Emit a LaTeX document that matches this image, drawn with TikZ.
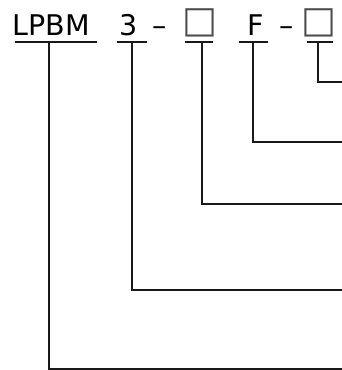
\documentclass[tikz,border=0pt]{standalone}
\usepackage{fontspec}
\setmainfont{DejaVu Sans}
\begin{document}
\begin{tikzpicture}[x=1pt,y=-1pt,
  lbl/.style={inner sep=0pt,outer sep=0pt,anchor=base,font=\fontsize{28.5}{30}\selectfont},
  sq/.style={inner sep=0pt,outer sep=0pt,anchor=center,font=\fontsize{37}{38}\selectfont,text=black!70},
  uline/.style={line width=1.9pt,black!90},
  conn/.style={line width=1.9pt,black!90}]
\useasboundingbox (0,0) rectangle (342,370);
% texts
\node[lbl] (t1) at (51.5,35) {LPBM};
\node[lbl] (t2) at (128.5,35) {3};
\node[lbl] (d1) at (160,35) {–};
\node[sq] (t3) at (199.5,22.5) {□};
\node[lbl] (t4) at (256,35) {F};
\node[lbl] (d2) at (286.5,35) {–};
\node[sq] (t5) at (318.5,22.5) {□};
% underline ends
\coordinate (a1) at (15,42);  \coordinate (b1) at (97,42);
\coordinate (a2) at (117,42); \coordinate (b2) at (147,42);
\coordinate (a3) at (185,42); \coordinate (b3) at (213,42);
\coordinate (a4) at (239,42); \coordinate (b4) at (268,42);
\coordinate (a5) at (307,42); \coordinate (b5) at (333,42);
\draw[uline] (a1) -- (b1);
\draw[uline] (a2) -- (b2);
\draw[uline] (a3) -- (b3);
\draw[uline] (a4) -- (b4);
\draw[uline] (a5) -- (b5);
% stems
\coordinate (s1) at (49,42);  \coordinate (e1) at (342,368.6);
\coordinate (s2) at (132,42); \coordinate (e2) at (342,290);
\coordinate (s3) at (202,42); \coordinate (e3) at (342,204);
\coordinate (s4) at (253,42); \coordinate (e4) at (342,142);
\coordinate (s5) at (318,42); \coordinate (e5) at (342,82);
\draw[conn] (s1) |- (e1);
\draw[conn] (s2) |- (e2);
\draw[conn] (s3) |- (e3);
\draw[conn] (s4) |- (e4);
\draw[conn] (s5) |- (e5);
\end{tikzpicture}
\end{document}
